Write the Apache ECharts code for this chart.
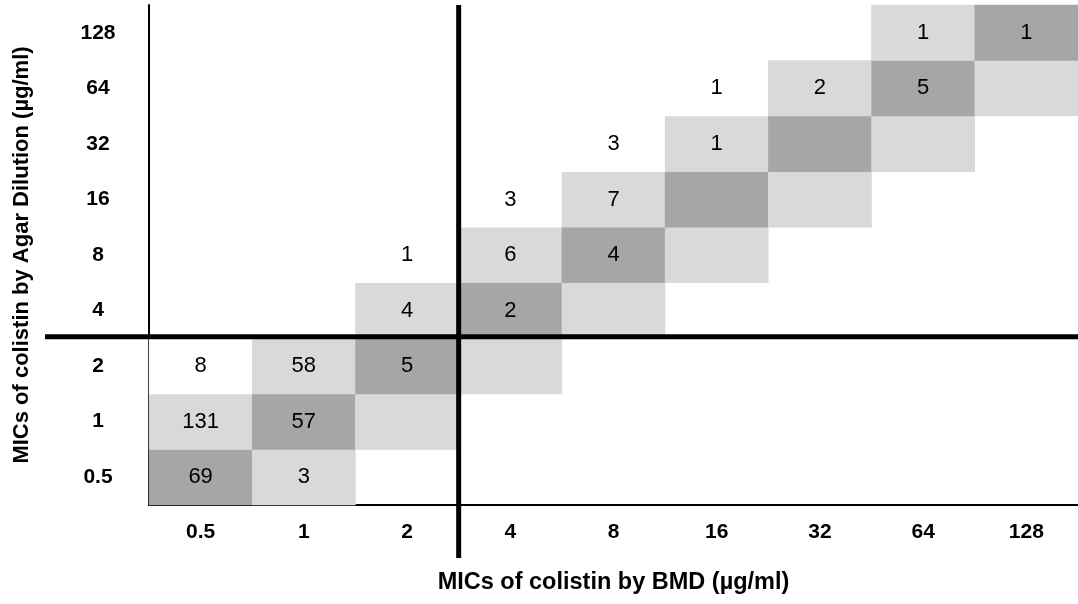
<!DOCTYPE html>
<html>
<head>
<meta charset="utf-8">
<script src="https://cdn.jsdelivr.net/npm/echarts@6/dist/echarts.min.js"></script>
<style>
  html, body { margin: 0; padding: 0; background: #fff; }
  #chart { width: 1078px; height: 604px; }
</style>
</head>
<body>
<div id="chart"></div>
<script>
// MIC dilution steps (µg/ml)
const bmdLabels = ['0.5', '1', '2', '4', '8', '16', '32', '64', '128'];
const agarLabels = ['0.5', '1', '2', '4', '8', '16', '32', '64', '128'];

// [BMD MIC, Agar dilution MIC, number of isolates]
const counts = [
  ['0.5', '0.5', 69], ['1', '0.5', 3],
  ['0.5', '1', 131], ['1', '1', 57],
  ['0.5', '2', 8], ['1', '2', 58], ['2', '2', 5],
  ['2', '4', 4], ['4', '4', 2],
  ['2', '8', 1], ['4', '8', 6], ['8', '8', 4],
  ['4', '16', 3], ['8', '16', 7],
  ['8', '32', 3], ['16', '32', 1],
  ['16', '64', 1], ['32', '64', 2], ['64', '64', 5],
  ['64', '128', 1], ['128', '128', 1]
];

// susceptibility breakpoint (last susceptible MIC)
const breakpoint = ['2', '2'];

const FONT = '"Liberation Sans", Arial, Helvetica, sans-serif';

// Build heatmap cells: [xIndex, yIndex, agreementClass, count]
const countMap = {};
counts.forEach(c => { countMap[c[0] + '|' + c[1]] = c[2]; });
const cells = [];
bmdLabels.forEach((bx, xi) => {
  agarLabels.forEach((ay, yi) => {
    const n = countMap[bx + '|' + ay] || 0;
    const d = Math.abs(xi - yi);
    if (d <= 1 || n > 0) {
      cells.push([xi, yi, d <= 1 ? d : 2, n]);
    }
  });
});

const chart = echarts.init(document.getElementById('chart'));
chart.setOption({
  animation: false,
  backgroundColor: '#ffffff',
  grid: { left: 149, top: 5, width: 936, height: 500, containLabel: false },
  xAxis: {
    type: 'category',
    data: bmdLabels,
    name: 'MICs of colistin by BMD (µg/ml)',
    nameLocation: 'middle',
    nameGap: 66,
    nameTextStyle: { fontFamily: FONT, fontWeight: 'bold', fontSize: 23.5, color: '#000' },
    axisLine: { show: true, lineStyle: { color: '#000', width: 2 } },
    axisTick: { show: false },
    axisLabel: { fontFamily: FONT, fontWeight: 'bold', fontSize: 21, color: '#000', margin: 17 },
    splitLine: { show: false },
    splitArea: { show: false }
  },
  yAxis: {
    type: 'category',
    data: agarLabels,
    name: 'MICs of colistin by Agar Dilution (µg/ml)',
    nameLocation: 'middle',
    nameGap: 116,
    nameRotate: 90,
    nameTextStyle: { fontFamily: FONT, fontWeight: 'bold', fontSize: 22, color: '#000' },
    axisLine: { show: true, lineStyle: { color: '#000', width: 2 } },
    axisTick: { show: false },
    axisLabel: { fontFamily: FONT, fontWeight: 'bold', fontSize: 21, color: '#000', margin: 51, align: 'center' },
    splitLine: { show: false },
    splitArea: { show: false }
  },
  visualMap: {
    type: 'piecewise',
    show: false,
    dimension: 2,
    seriesIndex: 0,
    pieces: [
      { value: 0, color: '#a6a6a6' },
      { value: 1, color: '#d9d9d9' },
      { value: 2, color: '#ffffff' }
    ]
  },
  series: [
    {
      type: 'heatmap',
      data: cells,
      itemStyle: { borderWidth: 0 },
      label: {
        show: true,
        fontFamily: FONT,
        fontSize: 22,
        color: '#000',
        formatter: p => (p.value[3] > 0 ? String(p.value[3]) : '')
      },
      emphasis: { disabled: true },
      z: 1
    },
    {
      type: 'custom',
      data: [breakpoint],
      z: 5,
      silent: true,
      renderItem: function (params, api) {
        const c = api.coord([api.value(0), api.value(1)]);
        const s = api.size([1, 1]);
        const cs = params.coordSys;
        const bx = c[0] + s[0] / 2;
        const by = c[1] - s[1] / 2 - 1.5;
        const style = { stroke: '#000', lineWidth: 5 };
        return {
          type: 'group',
          children: [
            { type: 'line', shape: { x1: bx, y1: cs.y, x2: bx, y2: cs.y + cs.height + 53 }, style: style },
            { type: 'line', shape: { x1: cs.x - 104, y1: by, x2: cs.x + cs.width, y2: by }, style: style }
          ]
        };
      }
    }
  ]
});
</script>
</body>
</html>
